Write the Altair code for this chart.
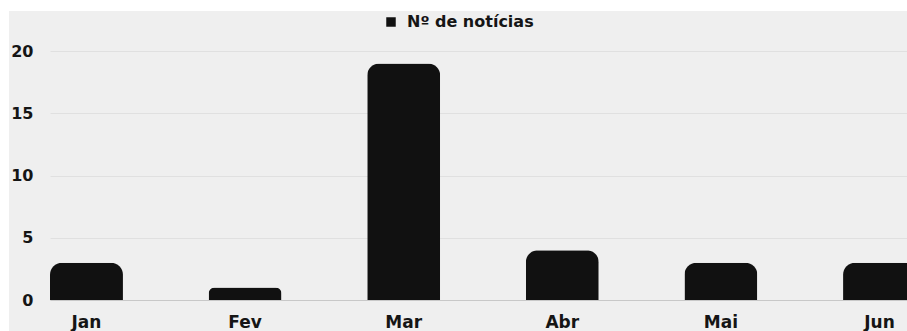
import altair as alt
import pandas as pd

meses = ["Jan", "Fev", "Mar", "Abr", "Mai", "Jun"]
noticias = [3, 1, 19, 4, 3, 3]
serie = "Nº de notícias"
y_ticks = [0, 5, 10, 15, 20]

df = pd.DataFrame({"mes": meses, "n": noticias, "serie": [serie] * len(meses)})

FONT = "DejaVu Sans"
INK = "#151515"
BG = "#efefef"

dummy = pd.DataFrame({"a": [0]})
# white margins (top strip and left strip) around the grey card
top_strip = alt.Chart(dummy).mark_rect(color="white").encode(
    x=alt.value(-50), x2=alt.value(860), y=alt.value(-51), y2=alt.value(-40)
)
left_strip = alt.Chart(dummy).mark_rect(color="white").encode(
    x=alt.value(-50), x2=alt.value(-41), y=alt.value(-51), y2=alt.value(300)
)

bars = alt.Chart(df).mark_bar(
    cornerRadiusTopLeft=12, cornerRadiusTopRight=12
).encode(
    x=alt.X(
        "mes:N",
        sort=meses,
        scale=alt.Scale(range=[0, 866], paddingInner=0.54, paddingOuter=0),
        axis=alt.Axis(
            title=None, labelAngle=0, ticks=False, domainColor="#c8c8c8",
            labelFontSize=17, labelPadding=14, labelFont=FONT,
            labelFontWeight="bold", labelColor=INK,
        ),
    ),
    y=alt.Y(
        "n:Q",
        scale=alt.Scale(domain=[0, 20]),
        axis=alt.Axis(
            title=None, values=y_ticks, domain=False, ticks=False,
            gridColor="#e0e0e0", labelFontSize=16, labelPadding=17,
            labelFont=FONT, labelFontWeight="bold", labelColor=INK,
        ),
    ),
    color=alt.Color(
        "serie:N",
        scale=alt.Scale(range=["#111111"]),
        legend=alt.Legend(
            title=None, orient="none", legendX=333, legendY=-37,
            symbolType="square", symbolSize=90, labelFontSize=16,
            labelFont=FONT, labelFontWeight="bold", labelColor=INK,
            labelOffset=8,
        ),
    ),
)

chart = alt.layer(bars, top_strip, left_strip).properties(
    width=857,
    height=249,
    autosize=alt.AutoSizeParams(type="none"),
    padding={"left": 50, "top": 51, "right": 0, "bottom": 31},
    background=BG,
).configure_view(stroke=None)

chart.save("out.html", embed_options={"renderer": "svg", "actions": False})
